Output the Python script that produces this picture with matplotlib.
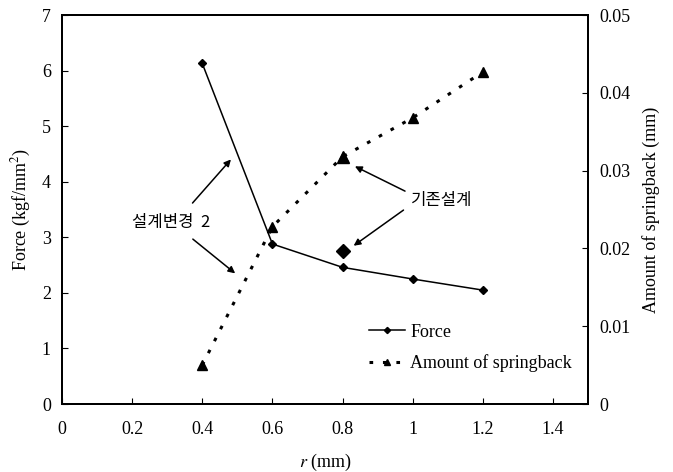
import matplotlib
matplotlib.use("Agg")
import matplotlib.pyplot as plt

# data
r = [0.4, 0.6, 0.8, 1.0, 1.2]
force = [6.13, 2.88, 2.46, 2.25, 2.05]
springback = [0.005, 0.0228, 0.0318, 0.0368, 0.0427]

# original design point (기존설계)
base_r = 0.8
base_force = 2.75
base_spring = 0.0318

x_ticks = [0, 0.2, 0.4, 0.6, 0.8, 1.0, 1.2, 1.4]
x_ticklabels = ["0", "0.2", "0.4", "0.6", "0.8", "1", "1.2", "1.4"]
force_ticks = [0, 1, 2, 3, 4, 5, 6, 7]
spring_ticks = [0, 0.01, 0.02, 0.03, 0.04, 0.05]
spring_ticklabels = ["0", "0.01", "0.02", "0.03", "0.04", "0.05"]

plt.rcParams['font.family'] = ['Liberation Serif', 'Noto Sans CJK KR']
plt.rcParams['mathtext.fontset'] = 'stix'
kfont = ['Noto Sans CJK KR', 'DejaVu Sans']

fig = plt.figure(figsize=(6.73, 4.72), dpi=100)
ax = fig.add_axes([0.092, 0.144, 0.782, 0.824])
ax2 = ax.twinx()

l1, = ax.plot(r, force, color='black', lw=1.1, marker='D', ms=4.5, label='Force')
ax.plot([base_r], [base_force], linestyle='none', marker='D', ms=7, color='black')
l2, = ax2.plot(r, springback, color='black', lw=2.2, linestyle=(0, (1.2, 3.2)),
               marker='^', ms=7, label='Amount of springback')
ax2.plot([base_r], [base_spring], linestyle='none', marker='^', ms=9, color='black')

ax.set_xlim(0, 1.5)
ax.set_ylim(0, 7)
ax2.set_ylim(0, 0.05)
ax.set_xticks(x_ticks)
ax.set_xticklabels(x_ticklabels)
ax.set_yticks(force_ticks)
ax2.set_yticks(spring_ticks)
ax2.set_yticklabels(spring_ticklabels)

for a in (ax, ax2):
    a.tick_params(direction='in', length=4, width=0.8, labelsize=13)
    for s in a.spines.values():
        s.set_linewidth(1.4)
ax.tick_params(axis='x', pad=12)
ax.tick_params(axis='y', pad=8)
ax2.tick_params(axis='y', pad=8)

ax.set_xlabel(r'$r$ (mm)', fontsize=13, labelpad=10)
ax.set_ylabel(r'Force (kgf/mm$^2$)', fontsize=13, labelpad=6)
ax2.set_ylabel('Amount of springback (mm)', fontsize=13, labelpad=8)

# annotations
arrow = dict(arrowstyle='-|>', color='black', lw=1.1, mutation_scale=10)
ax.text(0.31, 3.27, '설계변경  2', family=kfont, fontsize=12,
        ha='center', va='center')
ax.annotate('', xy=(0.487, 4.44), xytext=(0.367, 3.58), arrowprops=arrow)
ax.annotate('', xy=(0.50, 2.32), xytext=(0.367, 3.0), arrowprops=arrow)

ax.text(0.995, 3.66, '기존설계', family=kfont, fontsize=12,
        ha='left', va='center')
ax.annotate('', xy=(0.828, 4.30), xytext=(0.985, 3.81), arrowprops=arrow)
ax.annotate('', xy=(0.825, 2.82), xytext=(0.98, 3.52), arrowprops=arrow)

leg = ax.legend(handles=[l1, l2], loc='lower right', bbox_to_anchor=(1.0, 0.04),
                frameon=False, fontsize=13, handlelength=2.0, handletextpad=0.3,
                labelspacing=0.75, markerscale=0.7)

fig.savefig('out.png', dpi=100)
